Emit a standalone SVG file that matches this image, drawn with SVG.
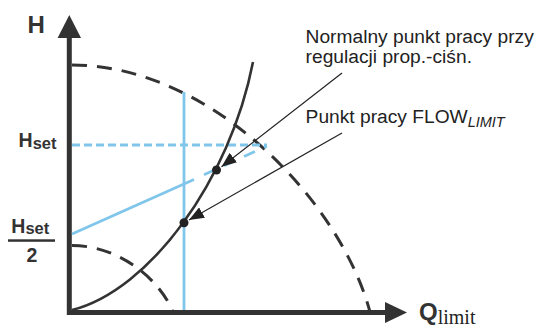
<svg xmlns="http://www.w3.org/2000/svg" width="541" height="327" viewBox="0 0 541 327">
<style>
.ax{stroke:#333;stroke-width:5;fill:none}
.dash{stroke:#333;stroke-width:3;fill:none;stroke-dasharray:15 10}
.sys{stroke:#333;stroke-width:2.6;fill:none}
.blue{stroke:#80c6ea;stroke-width:2.8;fill:none}
.ptr{stroke:#222;stroke-width:1.2;fill:none}
.lbl{font-family:"Liberation Sans",Arial,sans-serif;fill:#333;font-weight:bold}
.txt{font-family:"Liberation Sans",Arial,sans-serif;fill:#222;font-size:19.2px}
</style>
<defs>
<marker id="ah" markerUnits="userSpaceOnUse" markerWidth="16" markerHeight="12" viewBox="0 0 16 12" refX="15" refY="6" orient="auto">
<path d="M0,0 L15,6 L0,12 Z" fill="#222"/>
</marker>
</defs>
<rect width="541" height="327" fill="#fff"/>
<g id="axes">
<line class="ax" x1="69.3" y1="36" x2="69.3" y2="315"/>
<line class="ax" x1="67" y1="312.5" x2="387" y2="312.5"/>
<path d="M69.3,15 L81,38 L57.6,38 Z" fill="#333"/>
<path d="M407,312.5 L385,302 L385,323 Z" fill="#333"/>
</g>
<g id="pump-curves">
<path class="dash" d="M72,65 C210,65 340,200 370,312"/>
<path class="dash" d="M72,245.5 C120,245.5 160,280 173,312"/>
</g>
<g id="flow-limit">
<line class="blue" x1="184" y1="92" x2="184" y2="310"/>
<line class="blue" x1="72" y1="145" x2="267" y2="145" stroke-dasharray="8 4"/>
<line class="blue" x1="72" y1="234" x2="194" y2="179.5"/>
<line class="blue" x1="204" y1="174.8" x2="267" y2="146" stroke-dasharray="12 10"/>
</g>
<g id="system-curve">
<path class="sys" d="M72,310 C150,290 230,180 253,62"/>
</g>
<g id="points">
<circle cx="216.5" cy="170" r="4.5" fill="#222"/>
<circle cx="184" cy="222.8" r="4.5" fill="#222"/>
</g>
<g id="connectors">
<line class="ptr" x1="342" y1="73" x2="221.5" y2="166.8" marker-end="url(#ah)"/>
<line class="ptr" x1="342" y1="133" x2="189" y2="220" marker-end="url(#ah)"/>
</g>
<g id="label-H">
<text class="lbl" x="27.5" y="33.3" font-size="24">H</text>
</g>
<g id="label-Q">
<text class="lbl" x="419" y="320" font-size="24">Q<tspan font-family="'Liberation Serif','Times New Roman',serif" font-weight="normal" font-size="20" dy="3.5" fill="#222">limit</tspan></text>
</g>
<g id="label-Hset">
<text class="lbl" x="18.6" y="146.7" font-size="19.5">H<tspan font-size="16.5" dy="2.4">set</tspan></text>
</g>
<g id="label-Hset-half">
<text class="lbl" x="11.3" y="232.7" font-size="19.5">H<tspan font-size="16.5" dy="1.5">set</tspan></text>
<rect x="8" y="239.3" width="47" height="2.5" fill="#333"/>
<text class="lbl" x="32" y="261.7" font-size="19.5" text-anchor="middle">2</text>
</g>
<g id="label-normal">
<text class="txt" x="305.6" y="43">Normalny punkt pracy przy</text>
<text class="txt" x="305.6" y="63">regulacji prop.-ciśn.</text>
</g>
<g id="label-flowlimit">
<text class="txt" x="305.6" y="123">Punkt pracy FLOW<tspan font-style="italic" font-size="14.5" dy="4">LIMIT</tspan></text>
</g>
</svg>
